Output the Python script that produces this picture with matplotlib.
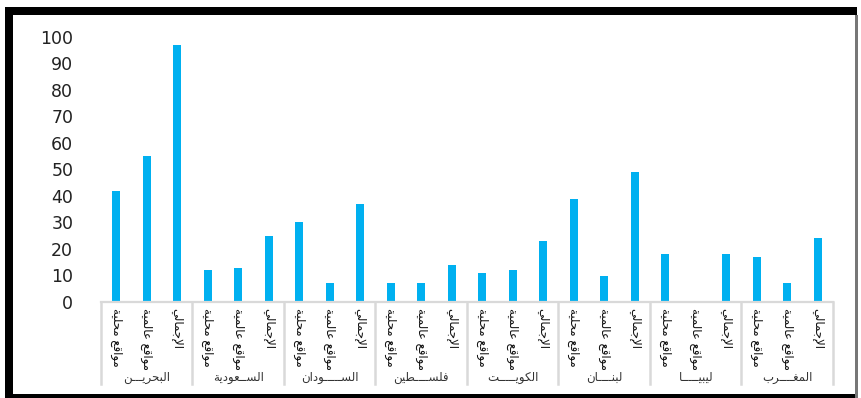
import matplotlib
matplotlib.use("Agg")
import matplotlib.pyplot as plt
from matplotlib.patches import Rectangle
from matplotlib.lines import Line2D

countries = ["البحريـــن", "الســعودية", "الســـــودان", "فلســــطين",
             "الكويـــــت", "لبنــــان", "ليبيـــــا", "المغــــرب"]
series_labels = ["مواقع محلية", "مواقع عالمية", "الإجمالي"]
local_sites = [42, 12, 30, 7, 11, 39, 18, 17]
global_sites = [55, 13, 7, 7, 12, 10, 0, 7]
totals = [97, 25, 37, 14, 23, 49, 18, 24]
yticks = [0, 10, 20, 30, 40, 50, 60, 70, 80, 90, 100]

BAR_COLOR = "#00B0F0"
GRID_GREY = "#D9D9D9"

# Arabic presentation forms: (first code point, number of forms)
FORMS = {
    "ا": (0xFE8D, 2), "أ": (0xFE83, 2), "إ": (0xFE87, 2),
    "ب": (0xFE8F, 4), "ة": (0xFE93, 2), "ت": (0xFE95, 4),
    "ج": (0xFE9D, 4), "ح": (0xFEA1, 4), "د": (0xFEA9, 2),
    "ر": (0xFEAD, 2), "س": (0xFEB1, 4), "ط": (0xFEC1, 4),
    "ع": (0xFEC9, 4), "غ": (0xFECD, 4), "ف": (0xFED1, 4),
    "ق": (0xFED5, 4), "ك": (0xFED9, 4), "ل": (0xFEDD, 4),
    "م": (0xFEE1, 4), "ن": (0xFEE5, 4), "ه": (0xFEE9, 4),
    "و": (0xFEED, 2), "ي": (0xFEF1, 4),
}
LAM_ALEF = {"ا": 0xFEFB, "أ": 0xFEF7, "إ": 0xFEF9}


def joins_next(c):
    return c == "ـ" or (c in FORMS and FORMS[c][1] == 4)


def joins_prev(c):
    return c == "ـ" or c in FORMS


def shape(text):
    """Contextual forms + right-to-left ordering for matplotlib."""
    out = []
    i = 0
    while i < len(text):
        c = text[i]
        prev = text[i - 1] if i > 0 else " "
        link_prev = joins_next(prev) and joins_prev(c)
        if c == "ل" and i + 1 < len(text) and text[i + 1] in LAM_ALEF:
            out.append(chr(LAM_ALEF[text[i + 1]] + (1 if link_prev else 0)))
            i += 2
            continue
        if c not in FORMS:
            out.append(c)
            i += 1
            continue
        base, n = FORMS[c]
        nxt = text[i + 1] if i + 1 < len(text) else " "
        link_next = n == 4 and joins_prev(nxt)
        out.append(chr(base + (1 if link_prev else 0) + (2 if link_next else 0)))
        i += 1
    return "".join(reversed(out))


fig = plt.figure(figsize=(8.62, 3.98), dpi=100)
W, H = 862, 398
ax = fig.add_axes([101 / W, 1 - 302 / H, (833 - 101) / W, (302 - 37) / H])

series = [local_sites, global_sites, totals]
for j, vals in enumerate(series):
    xs = [i * 3 + j for i in range(len(countries))]
    ax.bar(xs, vals, width=0.27, color=BAR_COLOR)

ax.set_xlim(-0.5, len(countries) * 3 - 0.5)
ax.set_ylim(0, 100)
ax.set_yticks(yticks)
ax.set_yticklabels([str(v) for v in yticks], fontsize=12.5, color="#222222")
ax.tick_params(axis="y", length=0, pad=20)
ax.set_xticks([])
for side in ["top", "right", "left"]:
    ax.spines[side].set_visible(False)
ax.spines["bottom"].set_color(GRID_GREY)
ax.spines["bottom"].set_linewidth(1.6)

# category label table below the axis
trans = ax.get_xaxis_transform()
for k in range(len(countries) + 1):
    ax.add_line(Line2D([k * 3 - 0.5] * 2, [0, -0.31], transform=trans,
                       color=GRID_GREY, lw=1.8, clip_on=False))
for i, name in enumerate(countries):
    for j, lab in enumerate(series_labels):
        ax.text(i * 3 + j, -0.022, shape(lab), transform=trans, rotation=270,
                ha="center", va="top", fontsize=8.5, family="DejaVu Sans",
                color="#111111")
    ax.text(i * 3 + 1, -0.285, shape(name), transform=trans, ha="center",
            va="center", fontsize=8.5, family="DejaVu Sans", color="#333333")

# outer frame: heavy black top/left/bottom, thin grey right edge
frame = [
    ((5, 0), 852, 4, "black"),
    ((5, 0), 8, 391, "black"),
    ((5, 383), 852, 8, "black"),
    ((855, 0), 3, 383, "#777777"),
]
for (x0, y0), w, h, col in frame:
    fig.add_artist(Rectangle((x0 / W, y0 / H), w / W, h / H,
                             transform=fig.transFigure, color=col, lw=0))

fig.savefig("out.png", dpi=100)
